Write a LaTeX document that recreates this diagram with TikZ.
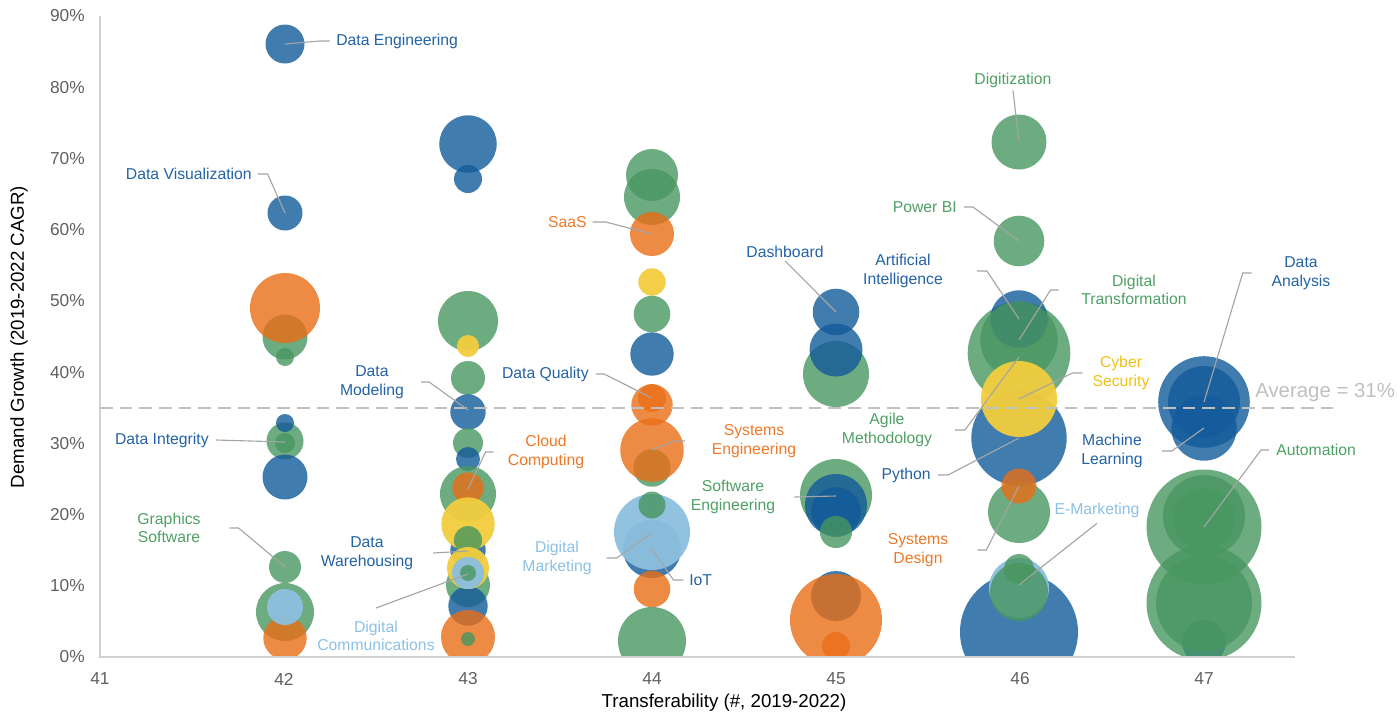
\documentclass[tikz,border=0pt]{standalone}
\usepackage{fontspec}
\setmainfont{Liberation Sans}
\usetikzlibrary{positioning}

% bubble colours
\definecolor{cB}{RGB}{18,91,154}
\definecolor{cG}{RGB}{72,150,96}
\definecolor{cO}{RGB}{233,110,22}
\definecolor{cY}{RGB}{241,205,62}
\definecolor{cL}{RGB}{140,191,222}
% label colours
\definecolor{tB}{RGB}{34,98,165}
\definecolor{tG}{RGB}{78,160,100}
\definecolor{tO}{RGB}{237,120,40}
\definecolor{tY}{RGB}{240,192,20}
\definecolor{tL}{RGB}{140,192,228}
\definecolor{leadGray}{RGB}{165,165,165}
\definecolor{axisGray}{RGB}{208,208,208}
\definecolor{avgGray}{RGB}{192,192,192}
\definecolor{tickGray}{RGB}{95,95,95}

\tikzset{
  bcB/.style={fill=cB, fill opacity=0.8},
  bcG/.style={fill=cG, fill opacity=0.8},
  bcO/.style={fill=cO, fill opacity=0.8},
  bcY/.style={fill=cY, fill opacity=0.96},
  bcL/.style={fill=cL, fill opacity=0.96},
  lbl/.style={font=\fontsize{11.2}{13.2}\selectfont, align=center, inner sep=0pt},
  lead/.style={draw=leadGray, line width=0.8pt},
  ticklbl/.style={font=\fontsize{12.3}{14}\selectfont, text=tickGray, inner sep=0pt},
  axtitle/.style={font=\fontsize{13.3}{15}\selectfont, inner sep=0pt},
}

\begin{document}
\begin{tikzpicture}[x=0.025cm, y=-0.025cm]

\useasboundingbox (0,0) rectangle (1397,713);

% bubbles, clipped at the x axis
\begin{scope}
\clip (0,0) rectangle (1397,657);
\foreach \bx/\by/\br/\bc in {
  285/337/22.5/cG, 285/308/35/cO, 285/357/9/cG, 285/44/19.5/cB, 285/213/17.5/cB,
  285/441/18.5/cG, 285/423/9/cB, 285/443/10/cG, 285/477/22.5/cB, 285/567/16/cG,
  285/612/29/cG, 285/638/21.7/cO, 285/607/18/cL,
  468/144/28.7/cB, 468/179/14/cB, 468/321/30/cG, 468/346/11/cY, 468/378/17/cG,
  468/412/17.7/cB, 468/443/15/cG, 468/459/12/cB, 468/585/22/cG, 468/606/19.7/cB,
  468/550/17.7/cB, 468/494/28/cG, 468/488/15.7/cO, 468/524/26.7/cY, 468/540/14/cG,
  468/568/21/cY, 468/573/16/cL, 468/573/8/cG, 468/637/27/cO, 468/639/7/cG,
  652/175/26/cG, 652/197/28/cG, 652/234/22/cO, 652/282/13.7/cY, 652/314/18.3/cG,
  652/354/21.7/cB, 652/405/20.7/cO, 652/398/14/cO, 652/468/18.7/cG, 652/450/31.7/cO,
  652/549/29/cB, 652/532/38/cL, 652/505/13.5/cG, 652/589/18.3/cO, 652/641/34/cG,
  836/374/33/cG, 836/350/26.5/cB, 836/312/23.3/cB, 836/495/36/cG, 836/505/31/cB,
  836/512/25/cB, 836/532/16/cG, 836/596/25/cB, 836/620/46/cO, 836/646/14/cO,
  1019/142/27.5/cG, 1019/241/25.3/cG, 1019/353/51.3/cG, 1019/319/28.7/cB,
  1019/340/38.7/cG, 1019/438/47.7/cB, 1019/399/38/cY, 1019/512/31/cG,
  1019/486/17.5/cO, 1019/632/59/cB, 1019/588/30/cL, 1019/592/29/cG, 1019/569/15/cG,
  1204/402/45.8/cB, 1204/402/36/cB, 1204/428/32.7/cB, 1204/642/22/cB,
  1204/527/57.5/cG, 1204/516/41/cG, 1204/519/30.7/cG, 1204/603/57.5/cG, 1204/603/48/cG}
  {\edef\bub{\noexpand\fill[b\bc] (\bx,\by) circle[radius=\br];}\bub}
\end{scope}

% axes
\draw[axisGray, line width=1pt] (100,16) -- (100,657) -- (1295,657);
\foreach \v in {0,10,...,90}
  \node[ticklbl, anchor=east] at (85,{657-7.122*\v}) {\v\%};
\foreach \t [count=\i from 0] in {41,...,47}
  \node[ticklbl] at ({100+184*\i},679) {\t};
\node[axtitle] (xt) at (724,703) {Transferability (\#, 2019-2022)};
\node[axtitle, rotate=90] (yt) at (19,337) {Demand Growth (2019-2022 CAGR)};

% average line
\draw[avgGray, line width=1.4pt, dash pattern=on 9pt off 5pt] (100,408) -- (1340,408);
\node[font=\fontsize{14.5}{16}\selectfont, text=avgGray, inner sep=0pt, anchor=west] (avg) at (1255,392) {Average = 31\%};

% bubble centres the labels point at
\coordinate (bDE) at (285,44);
\coordinate (bDV) at (285,213);
\coordinate (bDI) at (285,442);
\coordinate (bGS) at (285,567);
\coordinate (bDMo) at (468,410);
\coordinate (bCC) at (468,489);
\coordinate (bDW) at (468,551);
\coordinate (bDC) at (468,574);
\coordinate (bSaaS) at (652,234);
\coordinate (bDQ) at (652,398);
\coordinate (bSyE) at (652,450);
\coordinate (bDM) at (652,533);
\coordinate (bIoT) at (652,549);
\coordinate (bDB) at (836,312);
\coordinate (bSwE) at (836,496);
\coordinate (bDZ) at (1019,142);
\coordinate (bPB) at (1019,241);
\coordinate (bAI) at (1019,319);
\coordinate (bDT) at (1019,340);
\coordinate (bAM) at (1019,357);
\coordinate (bCS) at (1019,399);
\coordinate (bPy) at (1019,438);
\coordinate (bSD) at (1019,486);
\coordinate (bEM) at (1019,585);
\coordinate (bDA) at (1204,402);
\coordinate (bML) at (1204,428);
\coordinate (bAuto) at (1204,527);

% labels
\node[lbl, text=tB, anchor=west] (lDE) at (336,41) {Data Engineering};
\node[lbl, text=tB, anchor=east] (lDV) at (252,174) {Data Visualization};
\node[lbl, text=tB, anchor=east] (lDI) at (209,440) {Data Integrity};
\node[lbl, text=tG] (lGS) at (169,528) {Graphics\\Software};
\node[lbl, text=tB] (lDMo) at (372,382) {Data\\Modeling};
\node[lbl, text=tO] (lCC) at (546,452) {Cloud\\Computing};
\node[lbl, text=tB] (lDW) at (367,553) {Data\\Warehousing};
\node[lbl, text=tL] (lDC) at (376,636) {Digital\\Communications};
\node[lbl, text=tO, anchor=east] (lSaaS) at (587,222) {SaaS};
\node[lbl, text=tB, anchor=east] (lDQ) at (589,374) {Data Quality};
\node[lbl, text=tO] (lSyE) at (754,441) {Systems\\Engineering};
\node[lbl, text=tL] (lDM) at (557,558) {Digital\\Marketing};
\node[lbl, text=tB, anchor=west] (lIoT) at (689,580) {IoT};
\node[lbl, text=tB] (lDB) at (785,252) {Dashboard};
\node[lbl, text=tG] (lSwE) at (733,497) {Software\\Engineering};
\node[lbl, text=tG] (lDZ) at (1013,80) {Digitization};
\node[lbl, text=tG, anchor=east] (lPB) at (957,207) {Power BI};
\node[lbl, text=tB] (lAI) at (903,271) {Artificial\\Intelligence};
\node[lbl, text=tG] (lDT) at (1134,290) {Digital\\Transformation};
\node[lbl, text=tG] (lAM) at (887,430) {Agile\\Methodology};
\node[lbl, text=tY] (lCS) at (1121,373) {Cyber\\Security};
\node[lbl, text=tB, anchor=east] (lPy) at (931,475) {Python};
\node[lbl, text=tO] (lSD) at (918,550) {Systems\\Design};
\node[lbl, text=tL] (lEM) at (1097,510) {E-Marketing};
\node[lbl, text=tB] (lDA) at (1301,273) {Data\\Analysis};
\node[lbl, text=tB] (lML) at (1112,451) {Machine\\Learning};
\node[lbl, text=tG, anchor=west] (lAuto) at (1276,450) {Automation};

% leader lines
\draw[lead] ([xshift=-4.5pt]lDE.west) -- ++(-10,0) -- (bDE);
\draw[lead] ([xshift=4pt]lDV.east) -- ++(10,0) -- (bDV);
\draw[lead] ([xshift=5pt]lDI.east) -- (bDI);
\draw[lead] ([xshift=20.5pt]lGS.east) -- ++(9,0) -- (bGS);
\draw[lead] ([xshift=12pt]lDMo.east) -- ++(8,0) -- (bDMo);
\draw[lead] ([xshift=-10pt]lCC.west) -- ++(-8,0) -- (bCC);
\draw[lead] ([xshift=14pt]lDW.east) -- (bDW);
\draw[lead] ([yshift=9pt]lDC.north) -- (bDC);
\draw[lead] ([xshift=4pt]lSaaS.east) -- ++(13,0) -- (bSaaS);
\draw[lead] ([xshift=5pt]lDQ.east) -- ++(8,0) -- (bDQ);
\draw[lead] ([xshift=-19pt]lSyE.west) -- ++(-11,0) -- (bSyE);
\draw[lead] ([xshift=10.5pt]lDM.east) -- ++(10,0) -- (bDM);
\draw[lead] ([xshift=-4pt]lIoT.west) -- ++(-10,0) -- (bIoT);
\draw[lead] ([yshift=-2pt]lDB.south) -- (bDB);
\draw[lead] ([xshift=13.5pt]lSwE.east) -- (bSwE);
\draw[lead] ([yshift=-2pt]lDZ.south) -- (bDZ);
\draw[lead] ([xshift=5pt]lPB.east) -- ++(9,0) -- (bPB);
\draw[lead] ([xshift=24pt]lAI.east) -- ++(10,0) -- (bAI);
\draw[lead] ([xshift=-16pt]lDT.west) -- ++(-8,0) -- (bDT);
\draw[lead] ([xshift=16pt]lAM.east) -- ++(10,0) -- (bAM);
\draw[lead] ([xshift=-7pt]lCS.west) -- ++(-10,0) -- (bCS);
\draw[lead] ([xshift=5pt]lPy.east) -- ++(10,0) -- (bPy);
\draw[lead] ([xshift=20.5pt]lSD.east) -- ++(9,0) -- (bSD);
\draw[lead] ([yshift=-4pt]lEM.south) -- (bEM);
\draw[lead] ([xshift=-14pt]lDA.west) -- ++(-9,0) -- (bDA);
\draw[lead] ([xshift=13.5pt]lML.east) -- ++(10,0) -- (bML);
\draw[lead] ([xshift=-5pt]lAuto.west) -- ++(-8,0) -- (bAuto);

\end{tikzpicture}
\end{document}
